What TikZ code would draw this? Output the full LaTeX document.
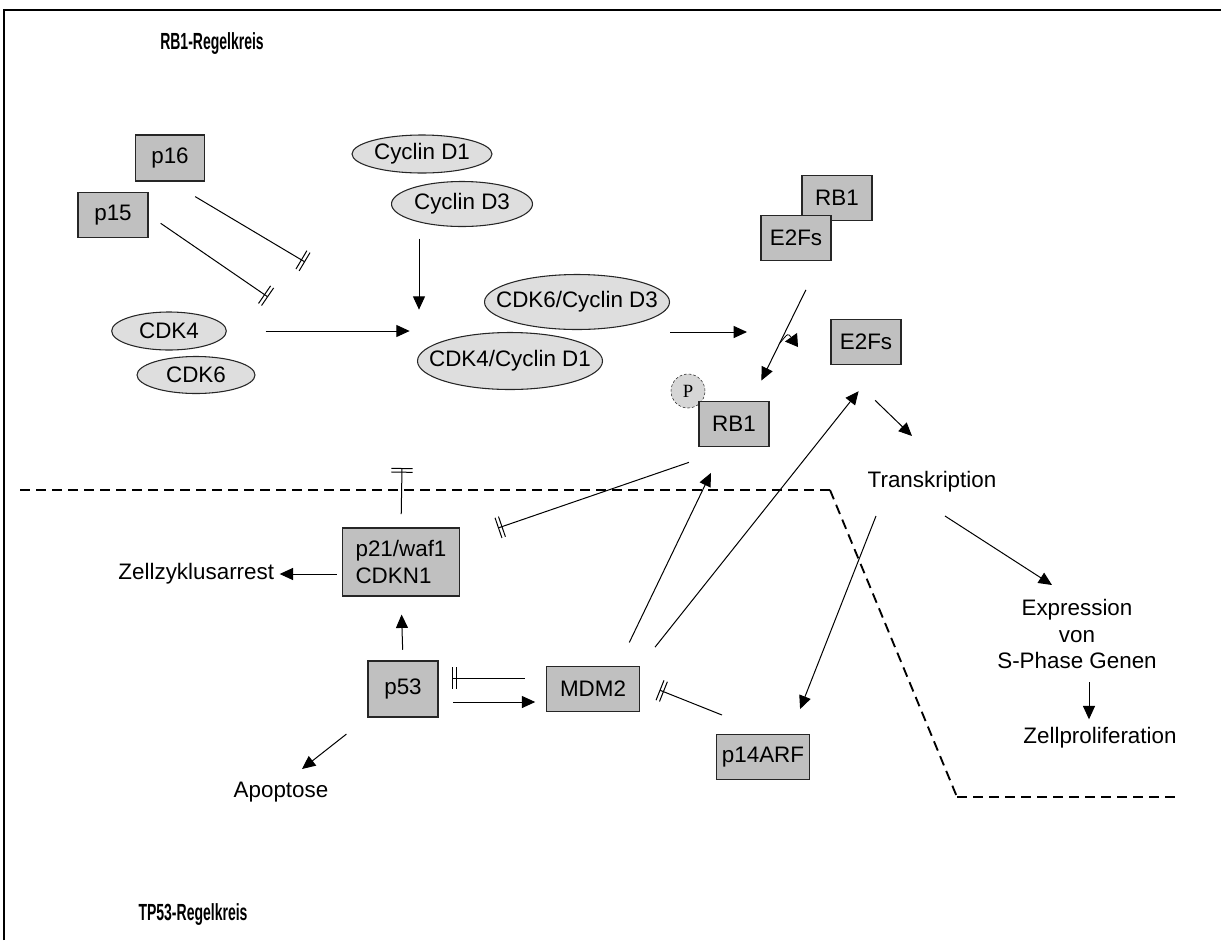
\documentclass[tikz,border=0pt]{standalone}
\usepackage{fontspec}
\setmainfont{Liberation Sans}
\newfontfamily\pfont{Liberation Serif}
\newfontfamily\titlefont[FakeStretch=0.6]{Liberation Sans}
\usetikzlibrary{positioning,arrows.meta,shapes.geometric}

\definecolor{boxgray}{HTML}{C0C0C0}
\definecolor{ellgray}{HTML}{DEDEDE}
\definecolor{pgray}{HTML}{D6D6D6}

\begin{document}
\begin{tikzpicture}[
    x=0.75pt, y=-0.75pt,
    every node/.style={font=\fontsize{16.8}{20}\selectfont},
    prot/.style={draw=black!85, line width=0.9pt, fill=boxgray, inner sep=2pt, minimum width=52.5pt, minimum height=33.75pt},
    ell/.style={ellipse, draw=black!85, line width=0.8pt, fill=ellgray, inner sep=0pt},
    word/.style={inner sep=2pt},
    title/.style={font=\titlefont\bfseries\fontsize{17.5}{20}\selectfont},
    arrow/.style={-{Triangle[length=10pt,width=9pt]}, line width=0.75pt},
    smallarrow/.style={-{Triangle[length=9pt,width=11pt]}, line width=0.6pt},
    inhib/.style={-{Bar[width=16pt,sep=2pt]Bar[width=16pt]}, line width=0.75pt},
    border/.style={dash pattern=on 7.5pt off 4.5pt, line width=2pt}
]
\useasboundingbox (0,0) rectangle (1221,940);
\draw[line width=1pt] (4,940) -- (4,10) -- (1221,10);

% titles
\node[title] (rbtitle) at (212,44) {RB1-Regelkreis};
\node[title] (tptitle) at (193,915) {TP53-Regelkreis};

% RB1 side
\node[prot, minimum width=51.75pt, minimum height=34.5pt] (p16) at (170,158) {p16};
\node[prot] (p15) at (113,215) {p15};
\node[ell, minimum width=86pt, minimum height=28.5pt, label=center:CDK4] (cdk4) at (169,331) {};
\node[ell, minimum width=88.5pt, minimum height=27.75pt, label=center:CDK6] (cdk6) at (196,375) {};
\node[ell, minimum width=105pt, minimum height=28.5pt, label=center:{Cyclin D1}] (cycd1) at (422,154) {};
\node[ell, minimum width=105.75pt, minimum height=33.75pt, label=center:{Cyclin D3}] (cycd3) at (462,204) {};
\node[ell, minimum width=138.75pt, minimum height=41.25pt, label=center:{CDK6/Cyclin D3}] (cdk6d3) at (577,302) {};
\node[ell, minimum width=138.75pt, minimum height=42.75pt, label=center:{CDK4/Cyclin D1}] (cdk4d1) at (510,361) {};
\node[prot] (rb1top) at (837,198) {RB1};
\node[prot] (e2ftop) at (796,238) {E2Fs};
\node[prot] (e2f) at (866,342) {E2Fs};
\node[draw=black!85, dash pattern=on 2pt off 1.5pt, circle, fill=pgray, minimum size=25.5pt, inner sep=0pt,
      font=\pfont\fontsize{14}{16}\selectfont] (phos) at (688,391) {P};
\node[prot] (rb1p) at (734,424) {RB1};
\node[word] (transk) at (932,482) {Transkription};
\node[word, align=center] (expr) at (1077,634) {Expression\\von\\S-Phase Genen};
\node[word] (prolif) at (1100,738) {Zellproliferation};

% TP53 side
\node[prot, minimum width=87.75pt, minimum height=51pt, align=left] (p21) at (401,562) {p21/waf1\\CDKN1};
\node[word, anchor=east] (arrest) at (277,574) {Zellzyklusarrest};
\node[prot, minimum height=42pt] (p53) at (403,689) {p53};
\node[prot, minimum width=69.75pt] (mdm2) at (593,689) {MDM2};
\node[prot, minimum width=69.75pt] (p14) at (763,757) {p14ARF};
\node[word] (apop) at (281,792) {Apoptose};

% free ends
\coordinate (i16) at (305,262);
\coordinate (i15) at (268,297);
\coordinate (mix) at (419,331);
\coordinate (kin) at (747,332);
\coordinate (brin) at (780,343);
\coordinate (brout) at (798,347);
\coordinate (tin) at (912,436);
\coordinate (i21) at (498,528);
\coordinate (i21up) at (402,468);
\coordinate (tout1) at (876,516);
\coordinate (p14out) at (722,715);
\coordinate (tout2) at (945,516);
\coordinate (ein) at (1052,585);
\coordinate (eout) at (1089,682);
\coordinate (apin) at (302,769);

% boundary between the two loops
\draw[border] (20,490) -- (830,490);
\draw[border, line width=1.4pt] (830,490) -- (957,797);
\draw[border] (957,797) -- (1180,797);

% RB1 loop
\draw[inhib, shorten <=22pt] (p16.south) -- (i16);
\draw[inhib, shorten <=11pt] (p15.east) -- (i15);
\draw[arrow, shorten <=29pt, shorten >=7pt] (cdk4.east) -- (mix);
\draw[arrow, shorten <=8.6pt, shorten >=16pt] (cycd3.south -| mix) -- (mix);
\draw[arrow] (cdk6d3.east |- kin) -- (kin);
\draw[arrow, shorten <=24pt, shorten >=17pt] ([xshift=18pt]e2ftop.south) -- ([xshift=13pt]rb1p.north);
\draw[smallarrow] (brin) .. controls (788,333) .. (brout);
\draw[arrow, shorten <=38pt] ([xshift=-20.5pt]e2f.south) -- (tin);
\draw[arrow] (tout2) -- (ein);
\draw[arrow, shorten >=4pt] (eout) -- (eout |- prolif.north);

% TP53 loop
\draw[inhib, shorten <=7.5pt] ([yshift=-9pt]rb1p.south west) -- (i21);
\draw[inhib, shorten <=10pt] (p21.north) -- (i21up);
\draw[arrow, shorten <=4pt, shorten >=2pt] ([yshift=-9pt]p21.west) -- (arrest.east);
\draw[arrow, shorten <=8pt, shorten >=13.5pt] (p53.north) -- (p21.south);
\draw[inhib, shorten <=16pt, shorten >=10pt] ([yshift=8.25pt]mdm2.west) -- ([yshift=8.25pt]p53.east);
\draw[arrow, shorten <=11pt, shorten >=8pt] ([yshift=-9.75pt]p53.east) -- ([yshift=-9.75pt]mdm2.west);
\draw[arrow, shorten <=19.5pt, shorten >=21.5pt] ([xshift=18.75pt]mdm2.north) -- ([xshift=-8pt]rb1p.south);
\draw[arrow, shorten <=18pt, shorten >=25pt] (mdm2.north east) -- ([xshift=10pt]e2f.south);
\draw[arrow, shorten >=20pt] (tout1) -- ([xshift=20.5pt]p14.north);
\draw[inhib, shorten >=15.7pt] (p14out) -- ([yshift=5pt]mdm2.east);
\draw[arrow, shorten <=20pt] (p53.south west) -- (apin);
\end{tikzpicture}
\end{document}
